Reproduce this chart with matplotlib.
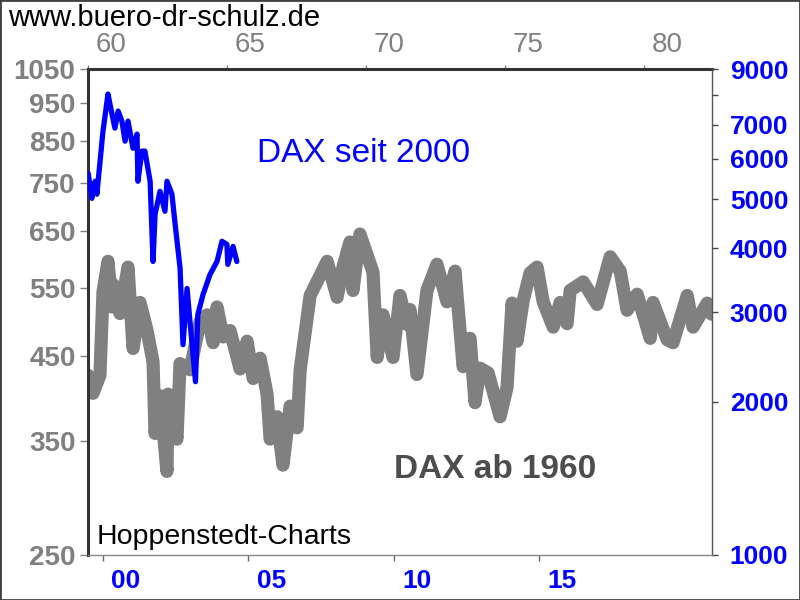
import matplotlib
matplotlib.use("Agg")
import matplotlib.pyplot as plt
from matplotlib.patches import Rectangle
from matplotlib.transforms import ScaledTranslation
from matplotlib.ticker import NullLocator

plt.rcParams['font.family'] = ['Liberation Sans', 'DejaVu Sans']

# DAX ab 1960 (gray, left + top axis)
gray_years = [1960.00, 1960.18, 1960.43, 1960.54, 1960.72, 1960.86, 1960.90, 1961.15, 1961.44,
              1961.62, 1961.87, 1962.12, 1962.34, 1962.41, 1962.59, 1962.84, 1962.88, 1963.20,
              1963.31, 1963.67, 1964.03, 1964.28, 1964.50, 1964.64, 1964.86, 1965.11, 1965.47,
              1965.72, 1965.94, 1966.19, 1966.44, 1966.55, 1966.80, 1967.01, 1967.27, 1967.52,
              1967.63, 1967.99, 1968.60, 1968.96, 1969.17, 1969.42, 1969.53, 1969.78, 1970.25,
              1970.40, 1970.61, 1970.97, 1971.22, 1971.47, 1971.58, 1971.83, 1972.19, 1972.55,
              1972.91, 1973.20, 1973.49, 1973.74, 1973.92, 1974.10, 1974.39, 1974.82, 1975.07,
              1975.25, 1975.43, 1975.65, 1975.90, 1976.15, 1976.37, 1976.73, 1976.98, 1977.23,
              1977.34, 1977.81, 1978.31, 1978.78, 1979.14, 1979.39, 1979.75, 1980.22, 1980.32,
              1980.83, 1981.04, 1981.55, 1981.76, 1982.27, 1982.43]
gray_vals = [425, 403, 425, 544, 595, 520, 556, 510, 585, 460, 527, 486, 442, 358, 400, 320,
             402, 352, 440, 432, 498, 508, 468, 520, 476, 485, 433, 470, 421, 447, 402, 352,
             376, 326, 388, 364, 432, 538, 595, 535, 585, 630, 546, 645, 576, 448, 508, 448,
             538, 494, 516, 426, 546, 590, 528, 578, 436, 474, 392, 434, 428, 376, 410, 526,
             470, 530, 575, 585, 528, 490, 527, 495, 546, 560, 524, 603, 578, 515, 540, 474,
             527, 472, 468, 538, 490, 526, 509]

# DAX seit 2000 (blue, right + bottom axis)
blue_years = [1999.50, 1999.63, 1999.74, 1999.80, 1999.91, 2000.01, 2000.15, 2000.18, 2000.32,
              2000.42, 2000.53, 2000.66, 2000.77, 2000.87, 2001.04, 2001.18, 2001.21, 2001.35,
              2001.45, 2001.63, 2001.73, 2001.80, 2001.97, 2002.14, 2002.21, 2002.38, 2002.49,
              2002.66, 2002.76, 2002.90, 2003.00, 2003.19, 2003.27, 2003.45, 2003.69, 2003.93,
              2004.10, 2004.27, 2004.30, 2004.48, 2004.61]
blue_vals = [5620, 5015, 5418, 5110, 5935, 6795, 7785, 8036, 7340, 6890, 7440, 7110, 6495, 7110,
             6290, 6705, 5418, 6210, 6210, 5418, 3770, 4665, 5177, 4730, 5418, 5110, 4460, 3652,
             2588, 3337, 2872, 2189, 2966, 3249, 3555, 3770, 4130, 4072, 3720, 4036, 3770]

left_ticks = [250, 350, 450, 550, 650, 750, 850, 950, 1050]
right_ticks = [1000, 2000, 3000, 4000, 5000, 6000, 7000, 8000, 9000]
right_labels = ['1000', '2000', '3000', '4000', '5000', '6000', '7000', '', '9000']
top_ticks = [1960, 1965, 1970, 1975, 1980]
top_labels = ['60', '65', '70', '75', '80']
bottom_ticks = [2000, 2005, 2010, 2015]
bottom_labels = ['00', '05', '10', '15']

GRAY = '#808080'
BLUE = '#0000ff'

fig = plt.figure(figsize=(8, 6), dpi=100)
rect = [0.11, 0.075, 0.7796, 0.81]
ax = fig.add_axes(rect, label='gray')
ax2 = fig.add_axes(rect, label='blue', facecolor='none')

# gray series
ax.plot(gray_years, gray_vals, color=GRAY, lw=9.5,
        solid_capstyle='round', solid_joinstyle='round')
ax.set_yscale('log')
ax.set_ylim(250, 1050)
ax.set_xlim(1960, 1982.43)
ax.set_yticks(left_ticks, labels=[str(t) for t in left_ticks])
ax.yaxis.set_minor_locator(NullLocator())
ax.xaxis.tick_top()
ax.set_xticks(top_ticks, labels=top_labels)
ax.tick_params(axis='y', colors=GRAY, labelsize=20, length=6, width=1, pad=3)
ax.tick_params(axis='x', colors=GRAY, labelsize=20, length=3, width=1, pad=5)
for lbl in ax.get_yticklabels():
    lbl.set_fontweight('bold')
for sp in ['right', 'bottom']:
    ax.spines[sp].set_visible(False)
for sp in ['left', 'top']:
    ax.spines[sp].set_color('#333333')
    ax.spines[sp].set_linewidth(2.2)

# blue series
ax2.plot(blue_years, blue_vals, color=BLUE, lw=3.8,
         solid_capstyle='round', solid_joinstyle='round')
ax2.set_yscale('log')
ax2.set_ylim(1000, 9000)
ax2.set_xlim(1999.495, 2020.93)
ax2.yaxis.tick_right()
ax2.set_yticks(right_ticks, labels=right_labels)
ax2.yaxis.set_minor_locator(NullLocator())
ax2.xaxis.tick_bottom()
ax2.set_xticks(bottom_ticks, labels=bottom_labels)
ax2.tick_params(axis='y', colors='#444444', labelcolor=BLUE, labelsize=19, length=4, width=1, pad=9)
ax2.tick_params(axis='x', colors='#666666', labelcolor=BLUE, labelsize=19, length=4, width=1, pad=6)
for lbl in ax2.get_yticklabels() + ax2.get_xticklabels():
    lbl.set_fontweight('bold')
for sp in ['left', 'top']:
    ax2.spines[sp].set_visible(False)
ax2.spines['right'].set_color('#555555')
ax2.spines['bottom'].set_color('#888888')
ax2.spines['right'].set_linewidth(1)
ax2.spines['bottom'].set_linewidth(1)

# year labels sit a bit to the right of their ticks
shift = ScaledTranslation(0.23, 0, fig.dpi_scale_trans)
for tick in ax.xaxis.get_major_ticks() + ax2.xaxis.get_major_ticks():
    tick.label1.set_transform(tick.label1.get_transform() + shift)
    tick.label2.set_transform(tick.label2.get_transform() + shift)

ax2.text(0.441, 0.827, 'DAX seit 2000', transform=ax2.transAxes, color=BLUE,
         fontsize=24, ha='center', va='center')
ax2.text(0.6526, 0.175, 'DAX ab 1960', transform=ax2.transAxes, color='#4d4d4d',
         fontsize=24, fontweight='bold', ha='center', va='center')
ax2.text(0.0144, 0.037, 'Hoppenstedt-Charts', transform=ax2.transAxes, color='black',
         fontsize=20.5, ha='left', va='center')
fig.text(0.01, 0.97, 'www.buero-dr-schulz.de', color='black', fontsize=21,
         ha='left', va='center')

fig.patches.append(Rectangle((0, 0), 1, 1, transform=fig.transFigure, fill=False,
                             ec='#404040', lw=2))

fig.savefig('out.png', dpi=100)
